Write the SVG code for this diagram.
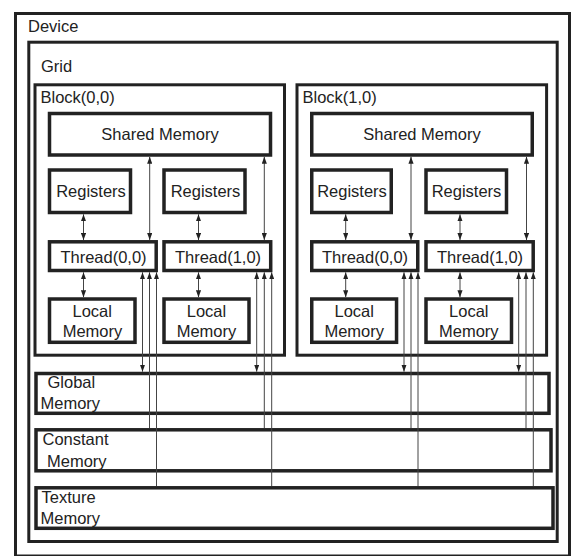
<svg xmlns="http://www.w3.org/2000/svg" width="573" height="556" viewBox="0 0 573 556">
<defs>
<marker id="ah" markerUnits="userSpaceOnUse" markerWidth="7" markerHeight="5.5" refX="7.5" refY="2.75" orient="auto-start-reverse" viewBox="0 0 7.5 5.5">
<path d="M0,0 L7.5,2.75 L0,5.5 z" fill="#222"/>
</marker>
<style>
.outer{fill:none;stroke:#222;stroke-width:3}
.box{fill:#fff;stroke:#222;stroke-width:3.5}
.mem{fill:none;stroke:#222;stroke-width:3.5}
text{font-family:"Liberation Sans",Arial,sans-serif;font-size:16.5px;fill:#222}
.c{text-anchor:middle}
.ln{stroke:#444;stroke-width:1;fill:none}
.bi{marker-start:url(#ah);marker-end:url(#ah)}
.up{marker-start:url(#ah)}
</style>
</defs>
<rect width="573" height="556" fill="#fff"/>
<g id="device"><rect class="outer" x="15.5" y="13.5" width="554" height="542.5"/><text x="28" y="32">Device</text></g>
<g id="grid"><rect class="outer" x="28.8" y="42.2" width="528.4" height="499.3"/><text x="41" y="72">Grid</text></g>
<g id="global"><rect class="mem" x="36" y="373.5" width="513" height="39.8"/><text x="47.5" y="388">Global</text><text x="40.5" y="408.5">Memory</text></g>
<g id="constant"><rect class="mem" x="36" y="429.8" width="515" height="41"/><text x="42.5" y="445">Constant</text><text x="47" y="466.5">Memory</text></g>
<g id="texture"><rect class="mem" x="36" y="487.8" width="517" height="40.5"/><text x="41.5" y="502.5">Texture</text><text x="40.5" y="524">Memory</text></g>
<g id="block00">
<rect class="outer" x="35" y="84.8" width="249.5" height="270.4"/><text x="40.5" y="103">Block(0,0)</text>
<g id="b0-shared"><rect class="box" x="49.5" y="113.5" width="221" height="41.5"/><text class="c" x="160" y="140">Shared Memory</text></g>
<g id="b0-reg0"><rect class="box" x="49.5" y="170" width="81" height="42.5"/><text class="c" x="91" y="197">Registers</text></g>
<g id="b0-reg1"><rect class="box" x="164" y="170" width="81" height="42.5"/><text class="c" x="205.5" y="197">Registers</text></g>
<g id="b0-t0"><rect class="box" x="49.5" y="241.8" width="106.7" height="28.7"/><text class="c" x="103.5" y="263.3">Thread(0,0)</text></g>
<g id="b0-t1"><rect class="box" x="164" y="241.8" width="106.7" height="28.7"/><text class="c" x="218" y="263.3">Thread(1,0)</text></g>
<g id="b0-l0"><rect class="box" x="49.5" y="299" width="85.5" height="43.3"/><text class="c" x="92.2" y="316.5">Local</text><text class="c" x="92.5" y="336.7">Memory</text></g>
<g id="b0-l1"><rect class="box" x="164" y="299" width="85" height="43.3"/><text class="c" x="206.5" y="316.5">Local</text><text class="c" x="206.5" y="336.7">Memory</text></g>
</g>
<g id="block10">
<rect class="outer" x="297" y="84.8" width="249.6" height="270.4"/><text x="302.5" y="103">Block(1,0)</text>
<g id="b1-shared"><rect class="box" x="311.75" y="113.5" width="220.5" height="41.5"/><text class="c" x="422" y="140">Shared Memory</text></g>
<g id="b1-reg0"><rect class="box" x="311.75" y="170" width="79.5" height="42.5"/><text class="c" x="352" y="197">Registers</text></g>
<g id="b1-reg1"><rect class="box" x="426" y="170" width="80.5" height="42.5"/><text class="c" x="466.5" y="197">Registers</text></g>
<g id="b1-t0"><rect class="box" x="311.75" y="241.8" width="106" height="28.7"/><text class="c" x="365" y="263.3">Thread(0,0)</text></g>
<g id="b1-t1"><rect class="box" x="426" y="241.8" width="107.2" height="28.7"/><text class="c" x="480" y="263.3">Thread(1,0)</text></g>
<g id="b1-l0"><rect class="box" x="311.75" y="299" width="84.8" height="43.3"/><text class="c" x="354.2" y="316.5">Local</text><text class="c" x="354.2" y="336.7">Memory</text></g>
<g id="b1-l1"><rect class="box" x="426" y="299" width="85.5" height="43.3"/><text class="c" x="468.8" y="316.5">Local</text><text class="c" x="468.8" y="336.7">Memory</text></g>
</g>
<g id="connectors">
<line class="ln bi" x1="83.5" y1="214.3" x2="83.5" y2="240"/>
<line class="ln bi" x1="198.5" y1="214.3" x2="198.5" y2="240"/>
<line class="ln bi" x1="345.7" y1="214.3" x2="345.7" y2="240"/>
<line class="ln bi" x1="460" y1="214.3" x2="460" y2="240"/>
<line class="ln bi" x1="83.5" y1="272.3" x2="83.5" y2="297.3"/>
<line class="ln bi" x1="198.5" y1="272.3" x2="198.5" y2="297.3"/>
<line class="ln bi" x1="345.7" y1="272.3" x2="345.7" y2="297.3"/>
<line class="ln bi" x1="460" y1="272.3" x2="460" y2="297.3"/>
<line class="ln bi" x1="149.7" y1="156.7" x2="149.7" y2="240"/>
<line class="ln bi" x1="264.3" y1="156.7" x2="264.3" y2="240"/>
<line class="ln bi" x1="411" y1="156.7" x2="411" y2="240"/>
<line class="ln bi" x1="526.5" y1="156.7" x2="526.5" y2="240"/>
<line class="ln bi" x1="142.5" y1="272.3" x2="142.5" y2="371.7"/>
<line class="ln up" x1="149.5" y1="272.3" x2="149.5" y2="428"/>
<line class="ln up" x1="156.5" y1="272.3" x2="156.5" y2="486"/>
<line class="ln bi" x1="256.7" y1="272.3" x2="256.7" y2="371.7"/>
<line class="ln up" x1="264.3" y1="272.3" x2="264.3" y2="428"/>
<line class="ln up" x1="271.7" y1="272.3" x2="271.7" y2="486"/>
<line class="ln bi" x1="404" y1="272.3" x2="404" y2="371.7"/>
<line class="ln up" x1="411" y1="272.3" x2="411" y2="428"/>
<line class="ln up" x1="418" y1="272.3" x2="418" y2="486"/>
<line class="ln bi" x1="518.7" y1="272.3" x2="518.7" y2="371.7"/>
<line class="ln up" x1="526" y1="272.3" x2="526" y2="428"/>
<line class="ln up" x1="533.3" y1="272.3" x2="533.3" y2="486"/>
</g>
</svg>
